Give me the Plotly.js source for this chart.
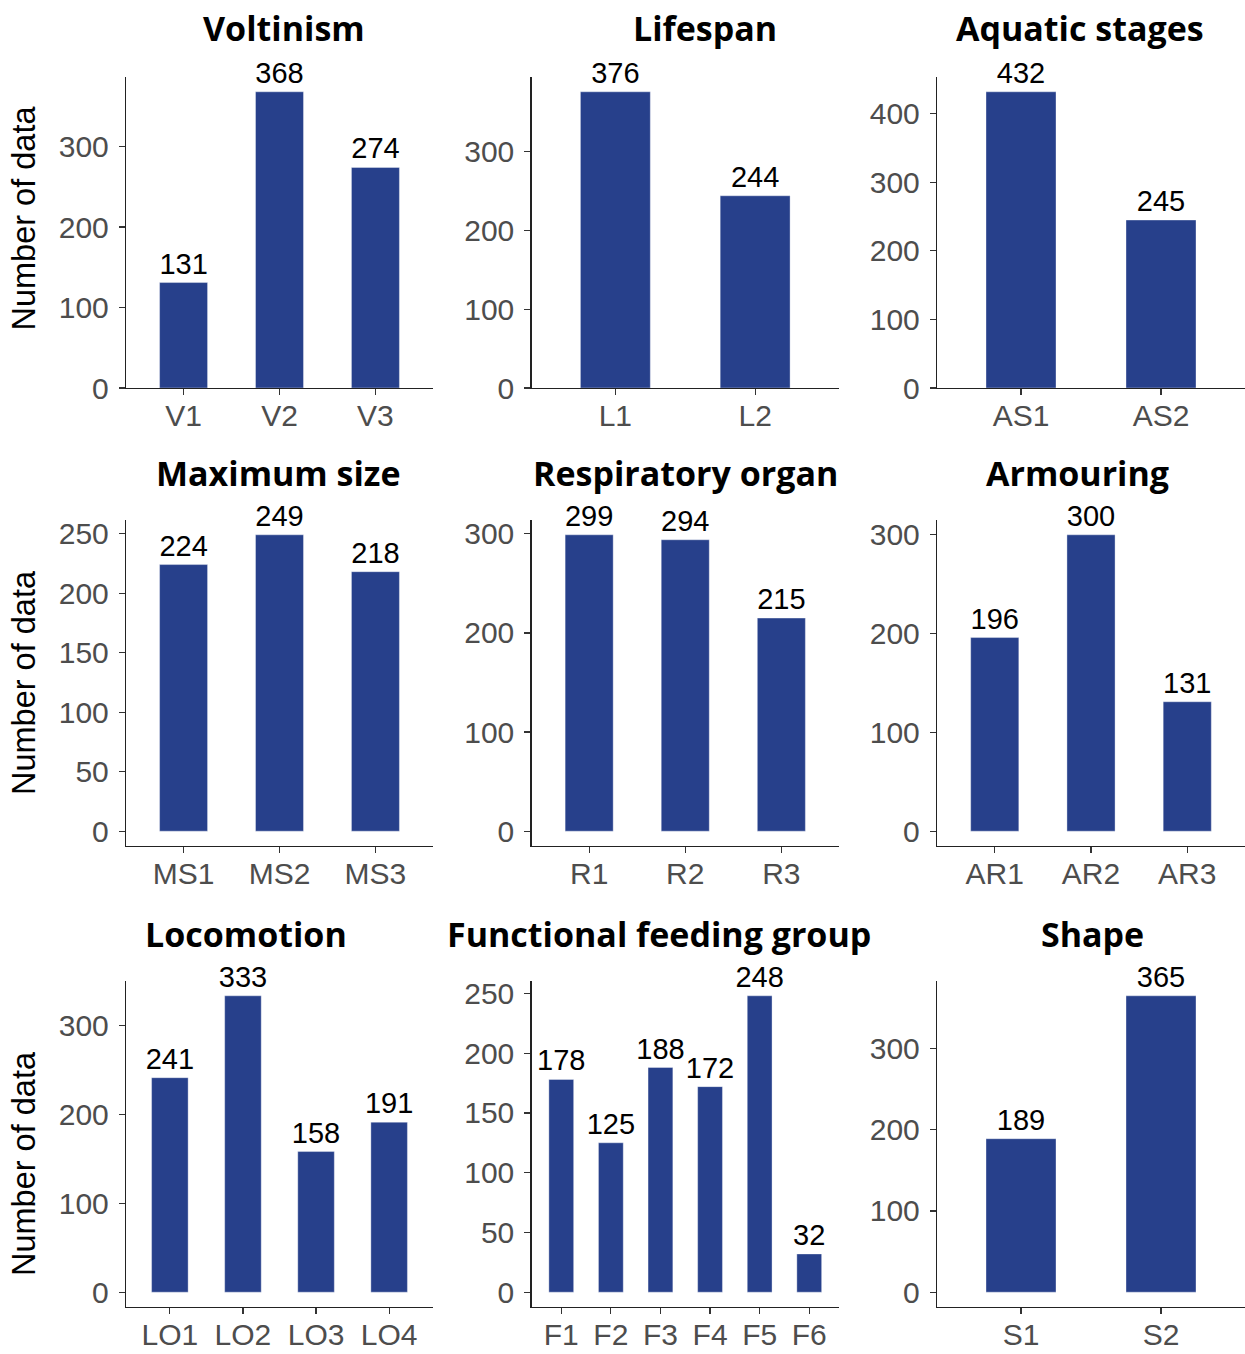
<!DOCTYPE html>
<html>
<head>
<meta charset="utf-8">
<script src="https://cdn.plot.ly/plotly-3.0.1.min.js"></script>
<style>
  html, body { margin: 0; padding: 0; background: #ffffff; }
  #chart { width: 1245px; height: 1354px; }
</style>
</head>
<body>
<div id="chart"></div>
<script>
// ---- Data ----
const voltCats = ['V1', 'V2', 'V3'];
const voltVals = [131, 368, 274];
const lifeCats = ['L1', 'L2'];
const lifeVals = [376, 244];
const aquaCats = ['AS1', 'AS2'];
const aquaVals = [432, 245];
const sizeCats = ['MS1', 'MS2', 'MS3'];
const sizeVals = [224, 249, 218];
const respCats = ['R1', 'R2', 'R3'];
const respVals = [299, 294, 215];
const armCats = ['AR1', 'AR2', 'AR3'];
const armVals = [196, 300, 131];
const locoCats = ['LO1', 'LO2', 'LO3', 'LO4'];
const locoVals = [241, 333, 158, 191];
const ffgCats = ['F1', 'F2', 'F3', 'F4', 'F5', 'F6'];
const ffgVals = [178, 125, 188, 172, 248, 32];
const shapeCats = ['S1', 'S2'];
const shapeVals = [189, 365];

const panelTitles = ['Voltinism', 'Lifespan', 'Aquatic stages',
  'Maximum size', 'Respiratory organ', 'Armouring',
  'Locomotion', 'Functional feeding group', 'Shape'];
const yTitle = 'Number of data';

// ---- Layout geometry (pixels) ----
const W = 1245, H = 1354;
const cols = [[126, 433], [531.5, 839], [937, 1245]];
const rows = [[77, 388], [520, 846], [981, 1307]];
const titlePos = [[283.5, 28], [705, 28], [1080, 28],
  [278.5, 473], [686, 473], [1077.5, 473],
  [246.5, 934], [659, 934], [1092.5, 934]];
const yTitlePos = [218, 682.5, 1163.5];

const panels = [
  [voltCats, voltVals, 100, false],
  [lifeCats, lifeVals, 100, false],
  [aquaCats, aquaVals, 100, false],
  [sizeCats, sizeVals, 50, true],
  [respCats, respVals, 100, true],
  [armCats, armVals, 100, true],
  [locoCats, locoVals, 100, true],
  [ffgCats, ffgVals, 50, true],
  [shapeCats, shapeVals, 100, true]
];

const barColor = '#27408B';
const tickFont = { family: 'Liberation Sans, Arial, sans-serif', size: 30, color: '#4D4D4D' };

const traces = [];
const layout = {
  width: W, height: H,
  margin: { l: 0, r: 0, t: 0, b: 0, pad: 0 },
  paper_bgcolor: '#ffffff', plot_bgcolor: '#ffffff',
  showlegend: false,
  annotations: []
};

panels.forEach((p, i) => {
  const [cats, vals, dtick, expandLow] = p;
  const r = Math.floor(i / 3), c = i % 3;
  const idx = i === 0 ? '' : String(i + 1);
  const maxV = Math.max(...vals);
  traces.push({
    type: 'bar', x: cats, y: vals,
    xaxis: 'x' + idx, yaxis: 'y' + idx,
    width: 0.5,
    marker: { color: barColor, line: { color: 'rgba(255,255,255,0.6)', width: 0.6 } },
    text: vals.map(String),
    textposition: 'outside',
    constraintext: 'none',
    cliponaxis: false,
    textfont: { family: 'Liberation Sans, Arial, sans-serif', size: 29, color: '#000000' },
    hoverinfo: 'x+y'
  });
  const common = {
    showline: true, linecolor: '#222222', linewidth: 1.2,
    ticks: 'outside', ticklen: 6, tickwidth: 1.2, tickcolor: '#333333',
    showgrid: false, zeroline: false,
    tickfont: tickFont, fixedrange: true
  };
  layout['xaxis' + idx] = Object.assign({}, common, {
    domain: [cols[c][0] / W, cols[c][1] / W],
    anchor: 'y' + idx,
    type: 'category',
    range: [-0.6, cats.length - 0.4],
    ticklabelstandoff: -5
  });
  layout['yaxis' + idx] = Object.assign({}, common, {
    domain: [1 - rows[r][1] / H, 1 - rows[r][0] / H],
    anchor: 'x' + idx,
    range: expandLow ? [-0.05 * maxV, 1.05 * maxV] : [0, 1.05 * maxV],
    tickmode: 'linear', tick0: 0, dtick: dtick,
    ticklabelstandoff: 4
  });
  layout.annotations.push({
    xref: 'paper', yref: 'paper',
    x: titlePos[i][0] / W, y: 1 - titlePos[i][1] / H,
    xanchor: 'center', yanchor: 'middle',
    text: '<b>' + panelTitles[i] + '</b>',
    showarrow: false,
    font: { family: 'Open Sans, sans-serif', size: 34, color: '#000000' }
  });
});

yTitlePos.forEach((yc) => {
  layout.annotations.push({
    xref: 'paper', yref: 'paper',
    x: 23.5 / W, y: 1 - yc / H,
    xanchor: 'center', yanchor: 'middle',
    text: yTitle, textangle: -90,
    showarrow: false,
    font: { family: 'Liberation Sans, Arial, sans-serif', size: 32.5, color: '#000000' }
  });
});

Plotly.newPlot('chart', traces, layout, { displayModeBar: false, staticPlot: true });
</script>
</body>
</html>
